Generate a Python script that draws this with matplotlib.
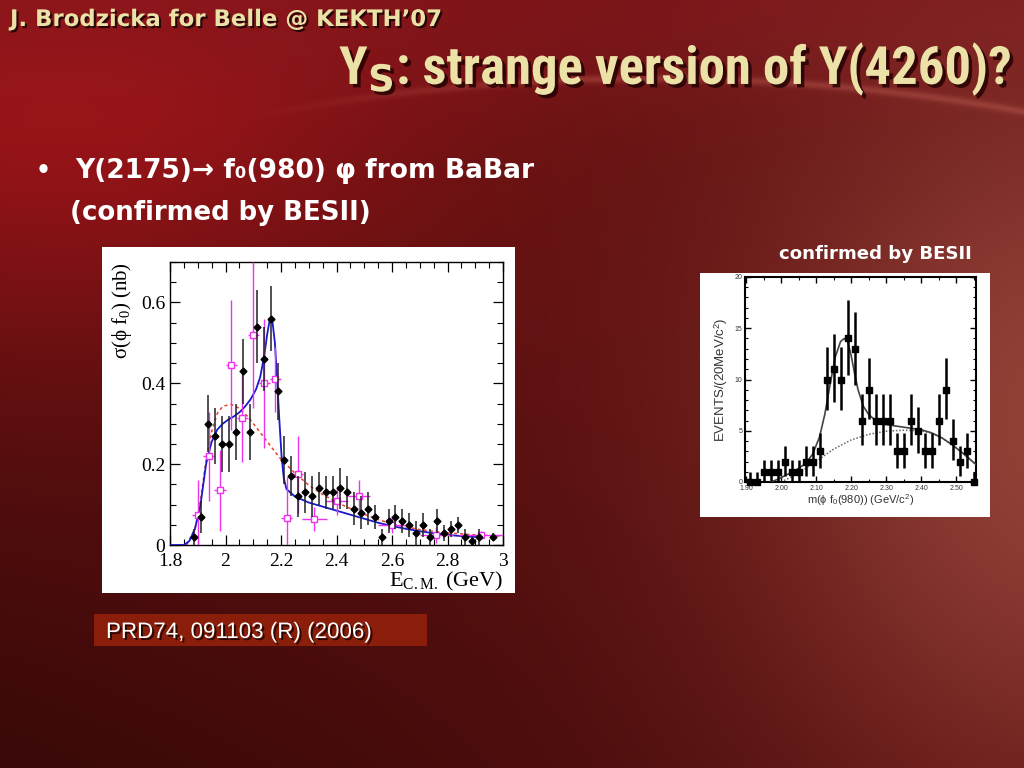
import numpy as np
import matplotlib
matplotlib.use('Agg')
import matplotlib.pyplot as plt
from matplotlib.patches import Rectangle
import matplotlib.patheffects as pe
from matplotlib.ticker import MultipleLocator, FixedLocator

# ---------------- data: left panel (BaBar) ----------------
babar_x = [1.8875, 1.9125, 1.9375, 1.9625, 1.9875, 2.0125, 2.0375, 2.0625, 2.0875, 2.1125,
           2.1375, 2.1625, 2.1875, 2.2125, 2.2375, 2.2625, 2.2875, 2.3125, 2.3375, 2.3625,
           2.3875, 2.4125, 2.4375, 2.4625, 2.4875, 2.5125, 2.5375, 2.5625, 2.5875, 2.6125,
           2.6375, 2.6625, 2.6875, 2.7125, 2.7375, 2.7625, 2.7875, 2.8125, 2.8375, 2.8625,
           2.8875, 2.9125, 2.9625]
babar_y = [0.02, 0.07, 0.30, 0.27, 0.25, 0.25, 0.28, 0.43, 0.28, 0.54,
           0.46, 0.56, 0.38, 0.21, 0.17, 0.12, 0.13, 0.12, 0.14, 0.13,
           0.13, 0.14, 0.13, 0.09, 0.08, 0.09, 0.07, 0.02, 0.06, 0.07,
           0.06, 0.05, 0.03, 0.05, 0.02, 0.06, 0.03, 0.04, 0.05, 0.02,
           0.01, 0.02, 0.02]
babar_err = [0.02, 0.04, 0.07, 0.07, 0.07, 0.07, 0.07, 0.08, 0.07, 0.09,
             0.08, 0.08, 0.07, 0.06, 0.05, 0.05, 0.05, 0.05, 0.04, 0.04,
             0.04, 0.05, 0.04, 0.04, 0.04, 0.04, 0.03, 0.02, 0.03, 0.03,
             0.03, 0.03, 0.03, 0.03, 0.02, 0.03, 0.02, 0.02, 0.02, 0.02,
             0.01, 0.02, 0.01]

magenta_x = [1.90, 1.94, 1.98, 2.02, 2.06, 2.10, 2.14, 2.18, 2.22, 2.26,
             2.32, 2.40, 2.48, 2.60, 2.76, 2.92]
magenta_y = [0.075, 0.22, 0.135, 0.445, 0.315, 0.52, 0.40, 0.41, 0.068, 0.175,
             0.065, 0.11, 0.12, 0.05, 0.025, 0.025]
magenta_yerr = [0.085, 0.11, 0.10, 0.16, 0.11, 0.18, 0.16, 0.08, 0.10, 0.095,
                0.03, 0.035, 0.04, 0.02, 0.02, 0.01]
magenta_xerr = [0.02, 0.02, 0.02, 0.02, 0.02, 0.02, 0.02, 0.02, 0.02, 0.02,
                0.045, 0.04, 0.04, 0.05, 0.06, 0.08]

fit_x = [1.80, 1.85, 1.87, 1.89, 1.91, 1.93, 1.95, 1.97, 1.99, 2.01, 2.03, 2.05, 2.07,
         2.09, 2.11, 2.125, 2.14, 2.15, 2.158, 2.164, 2.17, 2.178, 2.186, 2.194, 2.202,
         2.21, 2.22, 2.25, 2.30, 2.35, 2.40, 2.45, 2.50, 2.55, 2.60, 2.65, 2.70, 2.75,
         2.80, 2.85, 2.90]
fit_y = [0.0, 0.0, 0.01, 0.04, 0.10, 0.20, 0.255, 0.285, 0.30, 0.31, 0.318, 0.328, 0.342,
         0.36, 0.385, 0.415, 0.47, 0.52, 0.552, 0.562, 0.548, 0.50, 0.41, 0.31, 0.22,
         0.165, 0.138, 0.12, 0.105, 0.095, 0.085, 0.075, 0.065, 0.055, 0.047, 0.04, 0.034,
         0.029, 0.025, 0.022, 0.02]

bkg_x = [1.86, 1.89, 1.91, 1.93, 1.95, 1.97, 1.99, 2.02, 2.05, 2.08, 2.11, 2.14, 2.17,
         2.20, 2.25, 2.30, 2.35, 2.40, 2.45, 2.50, 2.55, 2.60, 2.70, 2.80, 2.90, 3.00]
bkg_y = [0.0, 0.04, 0.11, 0.21, 0.28, 0.325, 0.343, 0.348, 0.338, 0.318, 0.292, 0.265,
         0.238, 0.212, 0.178, 0.148, 0.125, 0.106, 0.09, 0.076, 0.063, 0.052, 0.038,
         0.03, 0.025, 0.022]

left_xticks = [1.8, 2.0, 2.2, 2.4, 2.6, 2.8, 3.0]
left_xticklabels = ['1.8', '2', '2.2', '2.4', '2.6', '2.8', '3']
left_yticks = [0.0, 0.2, 0.4, 0.6]
left_yticklabels = ['0', '0.2', '0.4', '0.6']

# ---------------- data: right panel (BESII) ----------------
bes_x = [1.91, 1.93, 1.95, 1.97, 1.99, 2.01, 2.03, 2.05, 2.07, 2.09, 2.11, 2.13, 2.15,
         2.17, 2.19, 2.21, 2.23, 2.25, 2.27, 2.29, 2.31, 2.33, 2.35, 2.37, 2.39, 2.41,
         2.43, 2.45, 2.47, 2.49, 2.51, 2.53, 2.55]
bes_y = [0, 0, 1, 1, 1, 2, 1, 1, 2, 2, 3, 10, 11, 10, 14, 13, 6, 9, 6, 6, 6, 3, 3, 6, 5,
         3, 3, 6, 9, 4, 2, 3, 0]
bes_err_lo = [0, 0, 0.9, 0.9, 0.9, 1.4, 0.9, 0.9, 1.4, 1.4, 1.6, 3.0, 3.2, 3.0, 3.6, 3.5,
              2.4, 2.9, 2.4, 2.4, 2.4, 1.6, 1.6, 2.4, 2.2, 1.6, 1.6, 2.4, 2.9, 1.9, 1.4, 1.6, 0]
bes_err_hi = [1.0, 1.0, 1.1, 1.1, 1.1, 1.5, 1.1, 1.1, 1.5, 1.5, 1.8, 3.2, 3.4, 3.2, 3.8,
              3.6, 2.6, 3.1, 2.6, 2.6, 2.6, 1.8, 1.8, 2.6, 2.3, 1.8, 1.8, 2.6, 3.1, 2.1,
              1.5, 1.8, 1.0]

bes_fit_x = [1.97, 1.99, 2.01, 2.04, 2.07, 2.09, 2.11, 2.125, 2.14, 2.155, 2.17, 2.18,
             2.19, 2.20, 2.21, 2.22, 2.235, 2.25, 2.27, 2.30, 2.35, 2.40, 2.43, 2.46,
             2.49, 2.52, 2.557]
bes_fit_y = [0.0, 0.25, 0.6, 1.1, 1.8, 2.7, 4.4, 6.6, 9.5, 12.2, 13.7, 14.0, 13.7, 12.4,
             10.6, 9.0, 7.4, 6.6, 6.0, 5.6, 5.35, 5.1, 4.8, 4.3, 3.6, 2.8, 1.7]
bes_bkg_x = [2.00, 2.03, 2.06, 2.10, 2.15, 2.20, 2.25, 2.30, 2.35, 2.40, 2.43, 2.46,
             2.49, 2.52, 2.557]
bes_bkg_y = [0.0, 0.5, 1.1, 2.0, 3.2, 4.1, 4.65, 4.95, 5.05, 5.0, 4.75, 4.3, 3.6, 2.8, 1.7]

right_xticks = [1.90, 2.00, 2.10, 2.20, 2.30, 2.40, 2.50]
right_xticklabels = ['1.90', '2.00', '2.10', '2.20', '2.30', '2.40', '2.50']
right_yticks = [0, 5, 10, 15, 20]
right_yticklabels = ['0', '5', '10', '15', '20']

# ---------------- texts ----------------
author_text = 'J. Brodzicka for Belle @ KEKTH\u201907'
title_text = r'Y$_\mathbf{S}$: strange version of Y(4260)?'
bullet_line1 = 'Y(2175)\u2192 f\u2080(980) \u03c6 from BaBar'
bullet_line2 = '(confirmed by BESII)'
besii_note = 'confirmed by BESII'
reference_text = 'PRD74, 091103 (R) (2006)'

plt.rcParams['mathtext.fontset'] = 'custom'
plt.rcParams['mathtext.rm'] = 'Liberation Serif'
plt.rcParams['mathtext.it'] = 'Liberation Serif:italic'
plt.rcParams['mathtext.bf'] = 'DejaVu Sans:bold'
plt.rcParams['mathtext.sf'] = 'Liberation Sans'

W, H = 1024, 768
fig = plt.figure(figsize=(W / 100, H / 100), dpi=100)

# ---------------- background ----------------
bg = fig.add_axes([0, 0, 1, 1], zorder=-5)
bg.axis('off')
yy, xx = np.mgrid[0:H, 0:W].astype(float)


def blend(img, col, w):
    return img * (1 - w[..., None]) + np.array(col) * w[..., None]


img = np.ones((H, W, 3)) * np.array([0.36, 0.06, 0.06])
w = np.clip((yy - 300) / 500, 0, 1) * np.clip(1 - xx / 1100, 0, 1)
img = blend(img, [0.20, 0.03, 0.03], w * 0.9)
w = np.exp(-(((xx - 60) / 380) ** 2 + ((yy - 40) / 260) ** 2))
img = blend(img, [0.64, 0.08, 0.10], w)
w = np.exp(-((yy) / 110) ** 2) * 0.7
img = blend(img, [0.52, 0.09, 0.11], w)
w = np.exp(-(((xx - 1080) / 330) ** 2 + ((yy - 420) / 380) ** 2))
img = blend(img, [0.58, 0.26, 0.22], w)
d = yy - (2200 - np.sqrt(np.clip(2122 ** 2 - (xx - 650) ** 2, 0, None)))
w = np.exp(-(d / 4) ** 2) * np.clip((xx - 250) / 300, 0, 1) * 0.3
img = blend(img, [0.85, 0.45, 0.40], w)
bg.imshow(np.clip(img, 0, 1), extent=[0, W, H, 0], aspect='auto', interpolation='bilinear')
bg.set_xlim(0, W)
bg.set_ylim(H, 0)

bg.add_patch(Rectangle((102, 247), 413, 346, facecolor='white', edgecolor='none'))
bg.add_patch(Rectangle((700, 273), 290, 244, facecolor='white', edgecolor='none'))
bg.add_patch(Rectangle((94, 614), 333, 32, facecolor='#8a1e0a', edgecolor='none'))

# ---------------- left plot ----------------
serif = 'Liberation Serif'
ax = fig.add_axes([170 / W, 1 - 545 / H, 333 / W, 283 / H])
ax.set_facecolor('white')
ax.plot(bkg_x, bkg_y, color='#e8402a', lw=1.1, ls=(0, (2, 2)), zorder=2)
ax.plot(fit_x, fit_y, color='#1a1acc', lw=1.3, zorder=3)
ax.errorbar(magenta_x, magenta_y, yerr=magenta_yerr, xerr=magenta_xerr, fmt='s',
            mfc='white', mec='#ee33ee', ms=5, mew=1.0, ecolor='#ee33ee', elinewidth=1.0,
            capsize=0, zorder=4)
ax.errorbar(babar_x, babar_y, yerr=babar_err, xerr=0.006, fmt='D', color='black',
            ms=3.5, ecolor='#222222', elinewidth=1.1, capsize=0, zorder=5)
ax.set_xlim(1.8, 3.0)
ax.set_ylim(0, 0.7)
ax.xaxis.set_major_locator(FixedLocator(left_xticks))
ax.set_xticklabels(left_xticklabels)
ax.yaxis.set_major_locator(FixedLocator(left_yticks))
ax.set_yticklabels(left_yticklabels)
ax.xaxis.set_minor_locator(MultipleLocator(0.05))
ax.yaxis.set_minor_locator(MultipleLocator(0.05))
ax.tick_params(which='both', direction='in', top=True, right=True, colors='black',
               labelsize=14)
ax.tick_params(which='major', length=7, width=0.9)
ax.tick_params(which='minor', length=4, width=0.8)
ax.tick_params(axis='x', pad=6)
for lab in ax.get_xticklabels() + ax.get_yticklabels():
    lab.set_fontfamily(serif)
for s in ax.spines.values():
    s.set_linewidth(1.0)
ax.set_ylabel(r'$\mathrm{\sigma(\phi\ f_0)\ (nb)}$', fontsize=15, fontfamily=serif,
              loc='top', labelpad=5)
ax.set_xlabel(r'$\mathrm{E_{C.M.}}$ (GeV)', fontsize=16, fontfamily=serif, loc='right',
              labelpad=0)

# ---------------- right plot ----------------
ax2 = fig.add_axes([745 / W, 1 - 482 / H, 231 / W, 205 / H])
ax2.set_facecolor('white')
ax2.plot(bes_bkg_x, bes_bkg_y, color='#666666', lw=1.1, ls=(0, (1, 1.2)), zorder=2)
ax2.plot(bes_fit_x, bes_fit_y, color='#444444', lw=1.2, zorder=3)
ax2.errorbar(bes_x, bes_y, yerr=[bes_err_lo, bes_err_hi], fmt='s', color='black', ms=5,
             ecolor='black', elinewidth=1.8, capsize=0, zorder=4, clip_on=False)
ax2.set_xlim(1.897, 2.557)
ax2.set_ylim(0, 20)
ax2.xaxis.set_major_locator(FixedLocator(right_xticks))
ax2.set_xticklabels(right_xticklabels)
ax2.yaxis.set_major_locator(FixedLocator(right_yticks))
ax2.set_yticklabels(right_yticklabels)
ax2.xaxis.set_minor_locator(MultipleLocator(0.05))
ax2.yaxis.set_minor_locator(MultipleLocator(1))
ax2.tick_params(which='both', direction='in', top=True, right=True, labelsize=5,
                colors='black', pad=2)
ax2.tick_params(which='major', length=4, width=1.0)
ax2.tick_params(which='minor', length=2.5, width=0.8)
for lab in ax2.get_xticklabels() + ax2.get_yticklabels():
    lab.set_fontfamily('Liberation Sans')
    lab.set_color('#333333')
for s in ax2.spines.values():
    s.set_linewidth(1.5)
ax2.set_xlabel(r'm($\mathsf{\phi}$ f$_\mathsf{0}$(980)) (GeV/c$^\mathsf{2}$)', fontsize=8,
               fontfamily='Liberation Sans', color='#333333', labelpad=1)
ax2.set_ylabel(r'EVENTS/(20MeV/c$^\mathsf{2}$)', fontsize=9.5, fontfamily='Liberation Sans',
               color='#333333', labelpad=3)

# ---------------- slide texts ----------------
renderer = fig.canvas.get_renderer()


def place(s, x, y, size, width=None, ha='left', **kw):
    t = fig.text(x / W, 1 - y / H, s, ha=ha, va='baseline', fontsize=size, **kw)
    if width is not None:
        wpx = t.get_window_extent(renderer).width
        t.set_fontsize(size * width / wpx)
    return t


shadow = [pe.withSimplePatchShadow(offset=(1.5, -1.5), shadow_rgbFace='black', alpha=0.7)]
beige = '#ece2a8'
place(author_text, 10, 26, 14, width=432, color=beige, fontweight='bold',
      fontfamily=['DejaVu Sans'], path_effects=shadow)
place(title_text, 1012, 84, 40, width=672, ha='right', color=beige, fontweight='bold',
      fontfamily=['Liberation Sans Narrow', 'Roboto Condensed', 'DejaVu Sans'],
      path_effects=[pe.withSimplePatchShadow(offset=(2.5, -2.5), shadow_rgbFace='#200000',
                                             alpha=0.8)])
place('\u2022', 36, 178, 17, color='white', fontweight='bold', fontfamily=['DejaVu Sans'])
place(bullet_line1, 75, 178, 17, width=460, color='white', fontweight='bold',
      fontfamily=['DejaVu Sans'])
place(bullet_line2, 70, 220, 17, width=302, color='white', fontweight='bold',
      fontfamily=['DejaVu Sans'])
place(besii_note, 779, 259, 12, width=193, color='white', fontweight='bold',
      fontfamily=['DejaVu Sans'])
place(reference_text, 106, 638, 14, width=267, color='white',
      fontfamily=['Liberation Sans'], path_effects=shadow)

fig.savefig('out.png', dpi=100)
